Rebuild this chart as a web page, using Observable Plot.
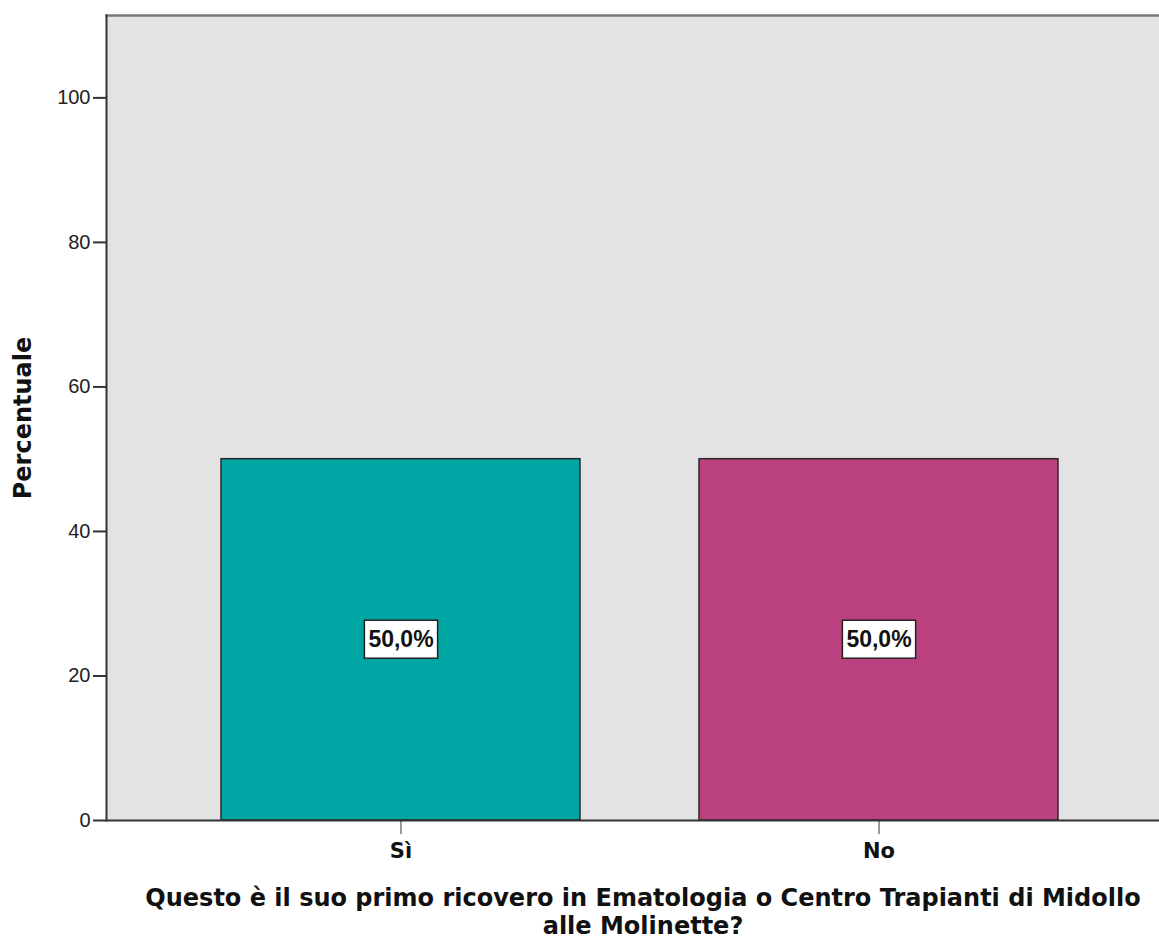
<!DOCTYPE html>
<html>
<head>
<meta charset="utf-8">
<script src="https://cdn.jsdelivr.net/npm/d3@7"></script>
<script src="https://cdn.jsdelivr.net/npm/@observablehq/plot@0.6"></script>
<style>
  html, body { margin: 0; padding: 0; background: #ffffff; }
</style>
</head>
<body>
<script>
const categories = ["Sì", "No"];
const percentages = [50, 50];
const valueLabels = ["50,0%", "50,0%"];
const barColors = ["#00a6a4", "#bb407e"];
const yTicks = [0, 20, 40, 60, 80, 100];
const yAxisTitle = "Percentuale";
const xAxisTitle = ["Questo è il suo primo ricovero in Ematologia o Centro Trapianti di Midollo", "alle Molinette?"];

const data = categories.map((c, i) => ({cat: c, pct: percentages[i], label: valueLabels[i]}));

const svg = Plot.plot({
  width: 1159,
  height: 940,
  marginTop: 15,
  marginLeft: 106,
  marginRight: 0,
  marginBottom: 120,
  style: {background: "#ffffff", fontFamily: "Liberation Sans, Arial, sans-serif", color: "#222"},
  x: {domain: categories, range: [220, 1058], paddingInner: 0.25, paddingOuter: 0, label: null},
  y: {domain: [0, 111.4], label: null},
  color: {domain: categories, range: barColors},
  marks: [
    Plot.frame({fill: "#e3e3e3", stroke: null}),
    Plot.barY(data, {x: "cat", y: "pct", fill: "cat", stroke: "#2a2a2a", strokeWidth: 1.5}),
    Plot.frame({anchor: "top", stroke: "#7a7a7a", strokeWidth: 2.5}),
    Plot.frame({anchor: "left", stroke: "#333", strokeWidth: 2}),
    Plot.frame({anchor: "bottom", stroke: "#333", strokeWidth: 2}),
    Plot.axisY({ticks: yTicks, tickSize: 13, tickPadding: 3, fontSize: 20, label: null, stroke: "#333", strokeWidth: 2, fill: "#222"}),
    Plot.axisX({tickSize: 14, tickPadding: 9, fontSize: 21, fontWeight: "bold", fontFamily: "DejaVu Sans", label: null, stroke: "#333", fill: "#111"}),
    Plot.text(data, {x: "cat", y: d => d.pct / 2, text: "label", fontSize: 23, fontWeight: "bold", fontFamily: "Liberation Sans", fill: "#111"}),
    Plot.text([yAxisTitle], {frameAnchor: "left", rotate: -90, dx: -83, textAnchor: "middle", lineAnchor: "middle", fontSize: 24, fontWeight: "bold", fontFamily: "DejaVu Sans", fill: "#111"}),
    Plot.text([xAxisTitle.join("\n")], {frameAnchor: "bottom", dx: 10, dy: 66, lineAnchor: "top", lineHeight: 1.15, textAnchor: "middle", fontSize: 24, fontWeight: "bold", fontFamily: "DejaVu Sans", fill: "#111"})
  ]
});
document.body.append(svg);

// white boxes behind the percentage labels
svg.querySelectorAll("text").forEach(t => {
  if (/%$/.test(t.textContent)) {
    const b = t.getBBox();
    const r = document.createElementNS("http://www.w3.org/2000/svg", "rect");
    r.setAttribute("x", b.x - 4);
    r.setAttribute("y", b.y - 6);
    r.setAttribute("width", b.width + 8);
    r.setAttribute("height", b.height + 12);
    r.setAttribute("fill", "#ffffff");
    r.setAttribute("stroke", "#222");
    r.setAttribute("stroke-width", 1.5);
    const tr = t.getAttribute("transform");
    if (tr) r.setAttribute("transform", tr);
    t.parentNode.insertBefore(r, t);
  }
});
</script>
</body>
</html>
